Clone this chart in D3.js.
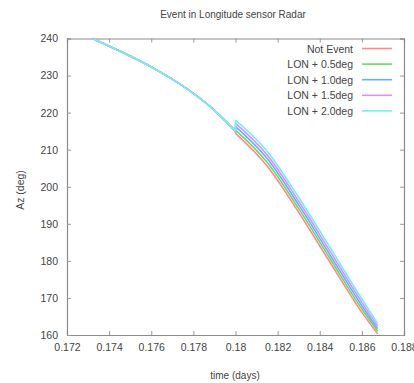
<!DOCTYPE html>
<html><head><meta charset="utf-8">
<script src="https://cdn.jsdelivr.net/npm/d3@7/dist/d3.min.js"></script>
<style>body{margin:0;background:#fff}svg{display:block}text{font-family:"Liberation Sans",Arial,sans-serif;fill:#444}</style>
</head><body><svg id="c" width="414" height="383"></svg>
<script>
const seriesNames = ["Not Event", "LON + 0.5deg", "LON + 1.0deg", "LON + 1.5deg", "LON + 2.0deg"];
const seriesColors = ["#ff8a8a", "#6ad86a", "#66aeff", "#e48cff", "#70f2f2"];
const preTimes = [0.1732, 0.1748, 0.1761, 0.1777, 0.1788, 0.1800];
const preValues = [240.0, 235.8, 232.0, 226.4, 221.6, 215.0];
const postTimes = [0.1800, 0.1815, 0.1830, 0.1845, 0.1860, 0.18675];
const postNotEvent = [214.4, 205.6, 193.1, 179.5, 166.1, 160.3];
const postLon05 = [215.3, 206.6, 194.1, 180.5, 167.0, 161.0];
const postLon10 = [216.2, 207.6, 195.1, 181.5, 167.9, 161.7];
const postLon15 = [217.1, 208.6, 196.1, 182.5, 168.8, 162.4];
const postLon20 = [218.0, 209.6, 197.1, 183.5, 169.7, 163.1];
const xTicks = [0.172, 0.174, 0.176, 0.178, 0.18, 0.182, 0.184, 0.186, 0.188];
const yTicks = [160, 170, 180, 190, 200, 210, 220, 230, 240];

const postAll = [postNotEvent, postLon05, postLon10, postLon15, postLon20];
const svg = d3.select("#c");
const L = 67, R = 404, T = 38.5, B = 335;
const x = d3.scaleLinear().domain([0.172, 0.188]).range([L, R]);
const y = d3.scaleLinear().domain([160, 240]).range([B, T]);

svg.append("defs").append("clipPath").attr("id", "clip")
  .append("rect").attr("x", L).attr("y", T).attr("width", R - L).attr("height", B - T);

const fmt = d => String(+d.toFixed(3));
const gB = svg.append("g").attr("transform", `translate(0,${B})`)
  .call(d3.axisBottom(x).tickValues(xTicks).tickFormat(fmt).tickSize(-4).tickPadding(9));
const gT = svg.append("g").attr("transform", `translate(0,${T})`)
  .call(d3.axisTop(x).tickValues(xTicks).tickFormat("").tickSize(-4));
const gL = svg.append("g").attr("transform", `translate(${L},0)`)
  .call(d3.axisLeft(y).tickValues(yTicks).tickSize(-4).tickPadding(9));
const gR = svg.append("g").attr("transform", `translate(${R},0)`)
  .call(d3.axisRight(y).tickValues(yTicks).tickFormat("").tickSize(-4));
[gB, gT, gL, gR].forEach(g => {
  g.select(".domain").attr("stroke", "#8a8a8a").attr("stroke-width", 1.2);
  g.selectAll(".tick line").attr("stroke", "#999");
  g.selectAll(".tick text").attr("fill", "#555").style("font-size", "10.5px")
    .style("font-family", '"Liberation Sans", Arial, sans-serif');
});

const line = d3.line().x(d => x(d[0])).y(d => y(d[1])).curve(d3.curveMonotoneX);
const plot = svg.append("g").attr("clip-path", "url(#clip)");
seriesNames.forEach((name, i) => {
  const pre = preTimes.map((t, j) => [t, preValues[j]]);
  const post = postTimes.map((t, j) => [t, postAll[i][j]]);
  const g = plot.append("g").attr("fill", "none").attr("stroke", seriesColors[i]).attr("stroke-width", 1.6);
  g.append("path").datum(pre).attr("d", line);
  g.append("line").attr("x1", x(preTimes[preTimes.length - 1])).attr("x2", x(postTimes[0]))
    .attr("y1", y(preValues[preValues.length - 1])).attr("y2", y(postAll[i][0]));
  g.append("path").datum(post).attr("d", line);
});

seriesNames.forEach((name, i) => {
  const ly = 48.5 + i * 15.6;
  svg.append("text").attr("x", 353).attr("y", ly + 4).attr("text-anchor", "end")
    .style("font-size", "10.5px").attr("fill", "#555").text(name);
  svg.append("line").attr("x1", 362).attr("x2", 392).attr("y1", ly).attr("y2", ly)
    .attr("stroke", seriesColors[i]).attr("stroke-width", 1.6);
});

svg.append("text").attr("x", 233).attr("y", 18).attr("text-anchor", "middle")
  .style("font-size", "10px").attr("fill", "#555").text("Event in Longitude sensor Radar");
svg.append("text").attr("x", 235).attr("y", 379).attr("text-anchor", "middle")
  .style("font-size", "10px").attr("fill", "#555").text("time (days)");
svg.append("text").attr("transform", "translate(24,190) rotate(-90)").attr("text-anchor", "middle")
  .style("font-size", "10.5px").attr("fill", "#555").text("Az (deg)");
</script></body></html>
